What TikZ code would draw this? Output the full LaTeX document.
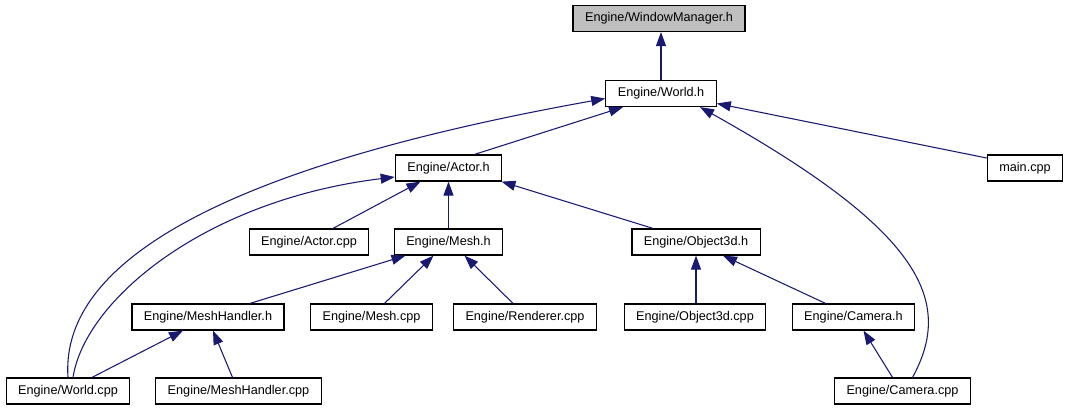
\documentclass[tikz,border=0pt]{standalone}
\usepackage{fontspec}
\setmainfont{Liberation Sans}
\usetikzlibrary{arrows.meta, positioning, calc}

\definecolor{edgeblue}{RGB}{25,25,112}
\definecolor{rootgray}{RGB}{191,191,191}

\begin{document}
\begin{tikzpicture}[
    x=0.75pt, y=-0.75pt,
    filebox/.style={rectangle, draw=black, fill=#1,
                    minimum height=19.5pt, inner xsep=9pt, inner ysep=0pt,
                    font=\fontsize{9.5}{11}\selectfont, line width=0.9pt},
    filebox/.default=white,
    inc/.style={-{Triangle[length=10.5pt, width=7.5pt]}, line width=0.8pt, draw=edgeblue},
]

% --- 画布 ---
\useasboundingbox (0,0) rectangle (1069,411);

% ============================================================
%  Nodes
% ============================================================
\node (wm)     [filebox=rootgray] at (659, 18.5) {Engine/WindowManager.h};
\node (world)  [filebox] at (661, 93.5)  {Engine/World.h};

% --- row 2 ---
\node (actor)  [filebox] at (448.5, 168) {Engine/Actor.h};
\node (mainc)  [filebox] at (1025, 168)  {main.cpp};

% --- row 3 ---
\node (actorc) [filebox] at (309, 242)   {Engine/Actor.cpp};
\node (mesh)   [filebox] at (448.5, 242) {Engine/Mesh.h};
\node (obj)    [filebox] at (696, 242)   {Engine/Object3d.h};

% --- row 4 ---
\node (meshh)  [filebox] at (208, 317)   {Engine/MeshHandler.h};
\node (meshc)  [filebox] at (371.5, 317) {Engine/Mesh.cpp};
\node (rend)   [filebox] at (525, 317)   {Engine/Renderer.cpp};
\node (objc)   [filebox] at (695, 317)   {Engine/Object3d.cpp};
\node (camh)   [filebox] at (853.5, 317) {Engine/Camera.h};

% --- row 5 ---
\node (worldc) [filebox] at (68, 391)    {Engine/World.cpp};
\node (meshhc) [filebox] at (238.5, 391) {Engine/MeshHandler.cpp};
\node (camc)   [filebox] at (902.5, 391) {Engine/Camera.cpp};

% ============================================================
%  Include edges
% ============================================================
\draw [inc] (world.north) -- (world.north |- wm.south);

% --- into World.h ---
\draw [inc] ($(actor.north)+(26,0)$) -- ($(world.south)+(-38,0)$);
\draw [inc] (worldc.north) .. controls (62,290) and (150,180) .. ($(world.west)+(0,5)$);
\draw [inc] ($(mainc.west)+(0,-10)$) -- ($(world.east)+(0,10)$);
\draw [inc] ($(camc.north)+(10,0)$) .. controls (955,300) and (920,230) .. ($(world.south)+(39,0)$);

% --- into Actor.h ---
\draw [inc] ($(actorc.north)+(24,0)$) -- ($(actor.south)+(-28,0)$);
\draw [inc] ($(worldc.north)+(5,0)$) .. controls (85,300) and (205,200) .. ($(actor.west)+(0,9)$);
\draw [inc] (mesh.north) -- (actor.south);
\draw [inc] ($(obj.north)+(-43,0)$) -- ($(actor.south)+(53,0)$);

% --- into Mesh.h ---
\draw [inc] ($(meshh.north)+(42,0)$) -- ($(mesh.south)+(-43,0)$);
\draw [inc] ($(meshc.north)+(13,0)$) -- ($(mesh.south)+(-15,0)$);
\draw [inc] ($(rend.north)+(-12,0)$) -- ($(mesh.south)+(16,0)$);

% --- into Object3d.h ---
\draw [inc] ($(objc.north)+(1,0)$) -- (obj.south);
\draw [inc] ($(camh.north)+(-28,0)$) -- ($(obj.south)+(27,0)$);

% --- into MeshHandler.h / Camera.h ---
\draw [inc] ($(worldc.north)+(24,0)$) -- ($(meshh.south)+(-25,0)$);
\draw [inc] ($(meshhc.north)+(-6,0)$) -- ($(meshh.south)+(5,0)$);
\draw [inc] ($(camc.north)+(-10,0)$) -- ($(camh.south)+(10,0)$);

\end{tikzpicture}
\end{document}
